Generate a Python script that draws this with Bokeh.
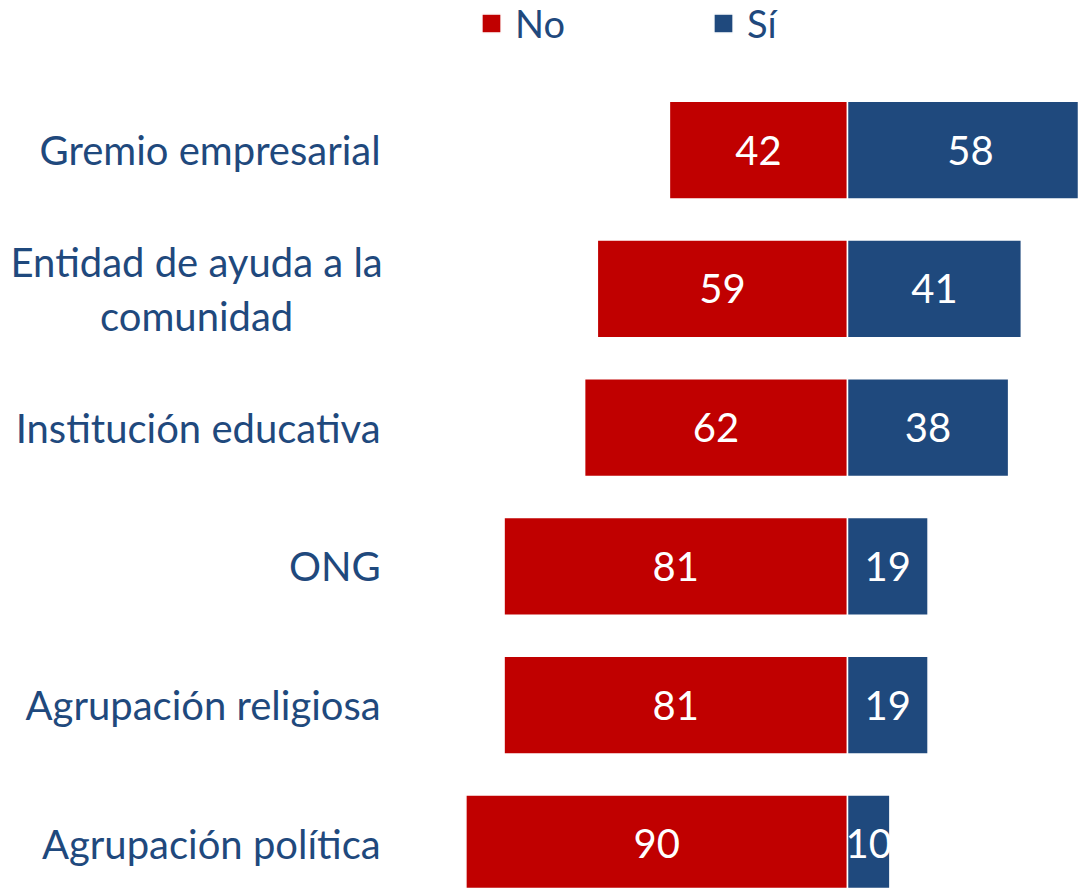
from bokeh.plotting import figure
from bokeh.models import ColumnDataSource, Range1d, Legend, LegendItem
from bokeh.core.properties import value
from bokeh.embed import file_html
from bokeh.resources import INLINE
import numpy as np

categories = ["Gremio empresarial", "Entidad de ayuda a la\ncomunidad", "Institución educativa",
              "ONG", "Agrupación religiosa", "Agrupación política"]
no_vals = [42, 59, 62, 81, 81, 90]
si_vals = [58, 41, 38, 19, 19, 10]
series_names = ["No", "Sí"]

RED = "#C00000"
BLUE = "#1F497D"
FONT = "Lato"
LAB_RIGHT = -110.1     # right edge of single-line category labels (data units)
LAB_CENTER = -153.5    # centre of the wrapped category label block

n = len(categories)
ypos = list(np.arange(n)[::-1])  # first category at top

src = ColumnDataSource(dict(
    cat=categories, y=ypos,
    no_left=[-v for v in no_vals], no_mid=[-v / 2 for v in no_vals],
    si_right=si_vals, si_mid=[v / 2 for v in si_vals],
    zero=[0] * n,
    no_txt=[str(v) for v in no_vals], si_txt=[str(v) for v in si_vals],
))

single = [i for i, c in enumerate(categories) if "\n" not in c]
multi = [i for i, c in enumerate(categories) if "\n" in c]
src_single = ColumnDataSource(dict(cat=[categories[i] for i in single], y=[ypos[i] for i in single],
                                   x=[LAB_RIGHT] * len(single)))
src_multi = ColumnDataSource(dict(cat=[categories[i] for i in multi], y=[ypos[i] for i in multi],
                                  x=[LAB_CENTER] * len(multi)))

p = figure(width=1078, height=888, output_backend="svg", toolbar_location=None,
           x_range=Range1d(-199.76, 54.48), y_range=Range1d(-0.321, 6.079),
           min_border=0, outline_line_color=None)
p.axis.visible = False
p.grid.visible = False
p.background_fill_color = "white"

r_no = p.hbar(y="y", left="no_left", right="zero", height=0.705, source=src,
              fill_color=RED, line_color="white", line_width=1.5)
r_si = p.hbar(y="y", left="zero", right="si_right", height=0.705, source=src,
              fill_color=BLUE, line_color="white", line_width=1.5)

num_kw = dict(text_color="white", text_font=value(FONT), text_font_size="40px",
              text_align="center", text_baseline="middle")
p.text(x="no_mid", y="y", text="no_txt", source=src, **num_kw)
p.text(x="si_mid", y="y", text="si_txt", source=src, **num_kw)

lab_kw = dict(text_color=BLUE, text_font=value(FONT), text_font_size="40px",
              text_baseline="middle", text_line_height=1.13)
p.text(x="x", y="y", text="cat", source=src_single, text_align="right", **lab_kw)
p.text(x="x", y="y", text="cat", source=src_multi, text_align="center", **lab_kw)

for name, rend, x in [(series_names[0], r_no, 479), (series_names[1], r_si, 711)]:
    lg = Legend(items=[LegendItem(label=name, renderers=[rend])], location=(x, 842),
                orientation="horizontal", glyph_width=24, glyph_height=24, label_standoff=12,
                padding=0, margin=0, border_line_color=None, background_fill_alpha=0,
                label_text_font=FONT, label_text_font_size="38px", label_text_color=BLUE,
                label_height=24)
    p.add_layout(lg)

open("out.html", "w").write(file_html(p, INLINE))
